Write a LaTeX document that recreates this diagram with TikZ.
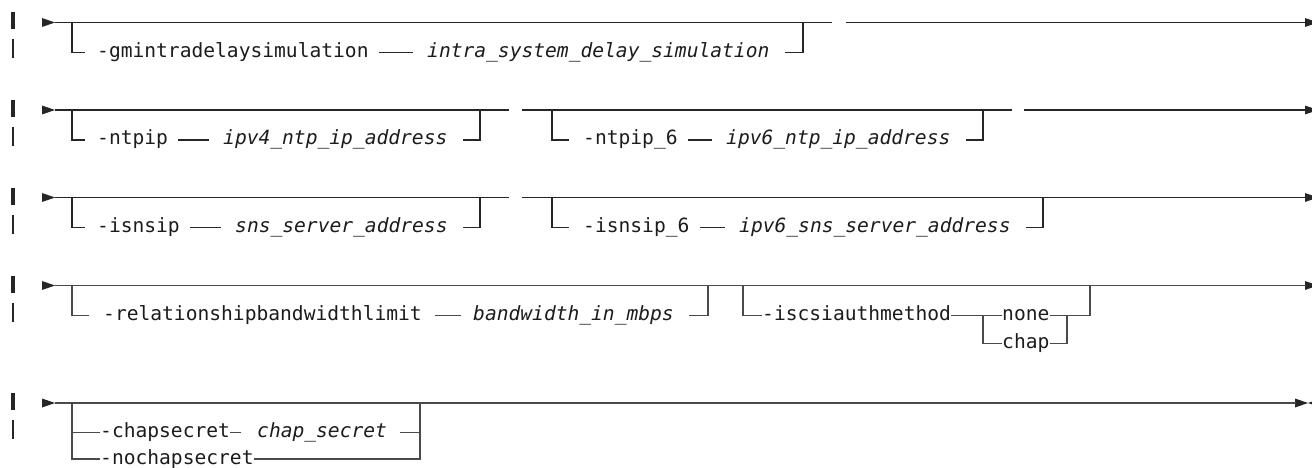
\documentclass[tikz,border=0pt]{standalone}
\usepackage{fontspec}
\newfontfamily\kwf{DejaVu Sans Mono}
\definecolor{railA}{HTML}{262626}
\definecolor{railB}{HTML}{4A4A4A}
\definecolor{txt}{HTML}{1C1C1C}
\tikzset{
  kw/.style={font=\kwf\fontsize{19.6}{22}\selectfont, inner sep=0pt, anchor=base west, text=txt, text height=14pt, text depth=4pt},
  var/.style={kw, font=\kwf\itshape\fontsize{19.6}{22}\selectfont},
  rail/.style={draw=railA, line width=1.3pt},
  railg/.style={draw=railB, line width=1.3pt},
}
\newcommand{\rowmark}[1]{%
  \fill[railA] (11,#1-10) rectangle (15,#1+7);
  \fill[railA] (12.4,#1+17) rectangle (14.2,#1+36);
  \fill[railA] (42,#1-4.5) -- (55,#1) -- (42,#1+4.5) -- cycle;}
\begin{document}
\begin{tikzpicture}[x=1pt,y=-1pt]
\useasboundingbox (0,0) rectangle (1312,468);
\clip (0,0) rectangle (1312,468);
% ---------------- Row 1 ----------------
\rowmark{22.5}
\fill[railA] (1305,18) -- (1318,22.5) -- (1305,27) -- cycle;
\coordinate (s1) at (55,22.5);
\coordinate (b1) at (72,22.5);
\coordinate (j1) at (803,22.5);
\coordinate (g1) at (832,22.5);
\coordinate (g1b) at (846,22.5);
\coordinate (e1) at (1306,22.5);
\node[kw] (k1) at (97,57.5) {-gmintradelaysimulation};
\node[var] (v1) at (427,57.5) {intra\_system\_delay\_simulation};
\draw[rail] (s1) -- (g1);
\draw[rail] (g1b) -- (e1);
\draw[rail] (b1) |- ([xshift=-12pt]k1.west);
\draw[rail] ([xshift=10pt]k1.east) -- ([xshift=-14pt]v1.west);
\draw[rail] ([xshift=15pt]v1.east) -| (j1);
% ---------------- Row 2 ----------------
\rowmark{110}
\fill[railA] (1305,105.5) -- (1318,110) -- (1305,114.5) -- cycle;
\coordinate (s2) at (55,110);
\coordinate (b2) at (72,110);
\coordinate (j2) at (480,110);
\coordinate (g2) at (509,110);
\coordinate (g2b) at (522,110);
\coordinate (b2b) at (552,110);
\coordinate (j2b) at (983,110);
\coordinate (g2c) at (1012,110);
\coordinate (g2d) at (1024,110);
\coordinate (e2) at (1306,110);
\node[kw] (k2a) at (97,145) {-ntpip};
\node[var] (v2a) at (223,145) {ipv4\_ntp\_ip\_address};
\node[kw] (k2b) at (583,145) {-ntpip\_6};
\node[var] (v2b) at (726,145) {ipv6\_ntp\_ip\_address};
\draw[rail] (s2) -- (g2);
\draw[rail] (g2b) -- (g2c);
\draw[rail] (g2d) -- (e2);
\draw[rail] (b2) |- ([xshift=-12pt]k2a.west);
\draw[rail] ([xshift=10pt]k2a.east) -- ([xshift=-14pt]v2a.west);
\draw[rail] ([xshift=15pt]v2a.east) -| (j2);
\draw[rail] (b2b) |- ([xshift=-14pt]k2b.west);
\draw[rail] ([xshift=10pt]k2b.east) -- ([xshift=-14pt]v2b.west);
\draw[rail] ([xshift=15pt]v2b.east) -| (j2b);
% ---------------- Row 3 ----------------
\rowmark{197.5}
\fill[railA] (1305,193) -- (1318,197.5) -- (1305,202) -- cycle;
\coordinate (s3) at (55,197.5);
\coordinate (b3) at (72,197.5);
\coordinate (j3) at (480,197.5);
\coordinate (g3) at (509,197.5);
\coordinate (g3b) at (522,197.5);
\coordinate (b3b) at (552,197.5);
\coordinate (j3b) at (1043,197.5);
\coordinate (e3) at (1306,197.5);
\node[kw] (k3a) at (97,232.5) {-isnsip};
\node[var] (v3a) at (235,232.5) {sns\_server\_address};
\node[kw] (k3b) at (583,232.5) {-isnsip\_6};
\node[var] (v3b) at (739,232.5) {ipv6\_sns\_server\_address};
\draw[rail] (s3) -- (g3);
\draw[rail] (g3b) -- (e3);
\draw[rail] (b3) |- ([xshift=-12pt]k3a.west);
\draw[rail] ([xshift=10pt]k3a.east) -- ([xshift=-14pt]v3a.west);
\draw[rail] ([xshift=15pt]v3a.east) -| (j3);
\draw[rail] (b3b) |- ([xshift=-14pt]k3b.west);
\draw[rail] ([xshift=10pt]k3b.east) -- ([xshift=-14pt]v3b.west);
\draw[rail] ([xshift=15pt]v3b.east) -| (j3b);
% ---------------- Row 4 ----------------
\rowmark{285.5}
\fill[railA] (1305,281) -- (1318,285.5) -- (1305,290) -- cycle;
\coordinate (s4) at (55,285.5);
\coordinate (b4) at (72,285.5);
\coordinate (j4) at (708,285.5);
\coordinate (b4b) at (743,285.5);
\coordinate (d4) at (983,315.5);
\coordinate (r4) at (1067,315.5);
\coordinate (j4b) at (1090,285.5);
\coordinate (e4) at (1306,285.5);
\node[kw] (k4a) at (103,320.5) {-relationshipbandwidthlimit};
\node[var] (v4a) at (473,320.5) {bandwidth\_in\_mbps};
\node[kw] (k4b) at (762,320.5) {-iscsiauthmethod};
\node[kw] (o1) at (1002,320.5) {none};
\node[kw] (o2) at (1002,348.5) {chap};
\draw[railg] (s4) -- (e4);
\draw[railg] (b4) |- ([xshift=-14pt]k4a.west);
\draw[railg] ([xshift=13pt]k4a.east) -- ([xshift=-12pt]v4a.west);
\draw[railg] ([xshift=15pt]v4a.east) -| (j4);
\draw[railg] (b4b) |- (k4b.west);
\draw[railg] (k4b.east) -- (o1.west);
\draw[railg] (d4) |- (o2.west);
\draw[railg] (o1.east) -- (r4);
\draw[railg] (o2.east) -| (r4);
\draw[railg] (r4) -| (j4b);
% ---------------- Row 5 ----------------
\rowmark{403}
\fill[railA] (1295,398.5) -- (1308,403) -- (1295,407.5) -- cycle;
\fill[railA] (1321,398.5) -- (1308,403) -- (1321,407.5) -- cycle;
\coordinate (s5) at (55,403);
\coordinate (b5) at (72,403);
\coordinate (c5) at (72,432.5);
\coordinate (j5) at (420,403);
\coordinate (e5) at (1296,403);
\node[kw] (k5a) at (100,437.5) {-chapsecret};
\node[var] (v5) at (257,437.5) {chap\_secret};
\node[kw] (k5b) at (100,464) {-nochapsecret};
\draw[railg] (s5) -- (e5);
\draw[railg] (b5) |- (k5b.west);
\draw[railg] (c5) -- (k5a.west);
\draw[railg] (k5a.east) -- ([xshift=-16pt]v5.west);
\draw[railg] ([xshift=13pt]v5.east) -| (j5);
\draw[railg] (k5b.east) -| (j5);
\end{tikzpicture}
\end{document}
